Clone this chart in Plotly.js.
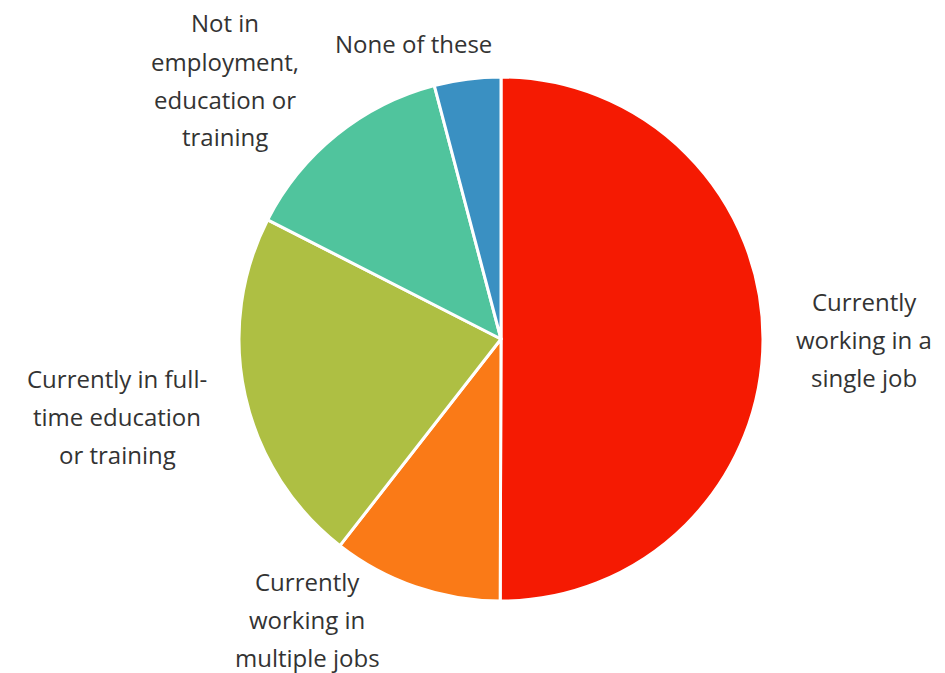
<!DOCTYPE html>
<html>
<head>
<meta charset="utf-8">
<script src="https://cdn.plot.ly/plotly-3.0.1.min.js"></script>
<style>html,body{margin:0;padding:0;background:#fff;}#chart{width:945px;height:673px;}</style>
</head>
<body>
<div id="chart"></div>
<script>
const categories = [
  "Currently<br>working in a<br>single job",
  "Currently<br>working in<br>multiple jobs",
  "Currently in full-<br>time education<br>or training",
  "Not in<br>employment,<br>education or<br>training",
  "None of these"
];
const values = [50.1, 10.5, 22.0, 13.4, 4.1];
const colors = ["#F51A02", "#FA7A17", "#AEBF43", "#50C49D", "#3A90C2"];

// label anchor positions (pixels in the 945x673 frame: centre x, first-line y)
const labelPos = [[864, 301], [307, 581], [117, 378], [225, 23], [413, 44]];
const lineGap = 38;
const W = 945, H = 673;

const annotations = [];
categories.forEach((c, i) => {
  c.split("<br>").forEach((line, j) => {
    annotations.push({
      text: line, xref: "paper", yref: "paper",
      x: labelPos[i][0] / W, y: 1 - (labelPos[i][1] + j * lineGap) / H,
      xanchor: "center", yanchor: "middle", showarrow: false,
      font: {family: "Open Sans, sans-serif", size: 24, color: "#333333"}
    });
  });
});

const cx = 501, cy = 339, r = 262;
Plotly.newPlot("chart", [{
  type: "pie",
  labels: categories.map(c => c.replace(/<br>/g, " ")),
  values: values,
  sort: false,
  direction: "clockwise",
  rotation: 0,
  marker: {colors: colors, line: {color: "#ffffff", width: 3}},
  textinfo: "none",
  hoverinfo: "label+percent",
  automargin: false,
  domain: {x: [(cx - r) / W, (cx + r) / W], y: [(H - cy - r) / H, (H - cy + r) / H]}
}], {
  width: W, height: H,
  margin: {l: 0, r: 0, t: 0, b: 0},
  showlegend: false,
  paper_bgcolor: "#ffffff",
  annotations: annotations
}, {displayModeBar: false, staticPlot: true});
</script>
</body>
</html>
